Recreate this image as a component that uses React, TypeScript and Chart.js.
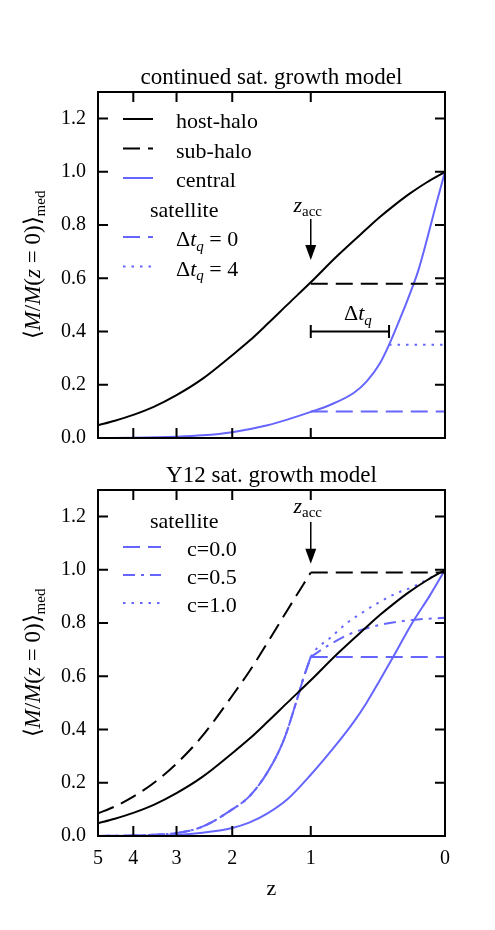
import React, { useEffect, useRef } from 'react';
import { Chart, registerables } from 'chart.js';

Chart.register(...registerables);

// ---------------- data ----------------
const zTicks = [5, 4, 3, 2, 1, 0];
const yTicks = [0, 0.2, 0.4, 0.6, 0.8, 1.0, 1.2];
const yMax = 1.3;
const zMaxAxis = 5;

// host halo (same in both panels)
const hostZ = [5, 4.5, 4, 3.5, 3, 2.5, 2, 1.75, 1.5, 1.25, 1, 0.75, 0.5, 0.4, 0.3, 0.2, 0.1, 0];
const hostM = [0.048, 0.065, 0.087, 0.117, 0.161, 0.222, 0.311, 0.364, 0.429, 0.503, 0.585, 0.682, 0.785, 0.83, 0.874, 0.918, 0.96, 1.0];

// top panel: continued satellite growth model
const subTopZ = [1, 0];
const subTopM = [0.58, 0.58];
const centralTopZ = [5, 4, 3, 2.5, 2, 1.5, 1.25, 1, 0.8, 0.6, 0.5, 0.4, 0.335, 0.26, 0.2, 0.15, 0.1, 0.05, 0];
const centralTopM = [0.0, 0.001, 0.005, 0.01, 0.022, 0.048, 0.07, 0.098, 0.126, 0.17, 0.212, 0.28, 0.35, 0.45, 0.54, 0.625, 0.74, 0.87, 1.0];
const dq0Z = [1, 0];
const dq0M = [0.1, 0.1];
const dq4Z = [0.335, 0];
const dq4M = [0.35, 0.35];

// bottom panel: Y12 satellite growth model
const subBotPreZ = [5, 4.5, 4, 3.5, 3, 2.5, 2, 1.75, 1.5, 1.25, 1];
const subBotPreM = [0.085, 0.111, 0.148, 0.199, 0.272, 0.376, 0.527, 0.617, 0.727, 0.852, 0.99];
const subBotPostZ = [1, 0];
const subBotPostM = [0.99, 0.99];
const centralBotZ = [5, 4, 3, 2.5, 2, 1.75, 1.5, 1.25, 1, 0.78, 0.6, 0.5, 0.4, 0.31, 0.18, 0.08, 0];
const centralBotM = [0.0, 0.001, 0.004, 0.012, 0.03, 0.05, 0.085, 0.14, 0.23, 0.33, 0.43, 0.5, 0.585, 0.67, 0.805, 0.905, 1.0];
const satPreZ = [5, 4, 3.5, 3, 2.5, 2, 1.75, 1.5, 1.3, 1.15, 1.08, 1];
const satPreM = [0.0, 0.002, 0.005, 0.011, 0.035, 0.1, 0.148, 0.24, 0.36, 0.51, 0.59, 0.673];
const c00Z = [1, 0];
const c00M = [0.673, 0.673];
const c05Z = [1, 0.81, 0.63, 0.4, 0.18, 0];
const c05M = [0.673, 0.72, 0.76, 0.793, 0.812, 0.82];
const c10Z = [1, 0.95, 0.81, 0.66, 0.53, 0.4, 0.28, 0.18, 0.08, 0];
const c10M = [0.673, 0.7, 0.744, 0.8, 0.84, 0.88, 0.913, 0.936, 0.97, 1.0];

// annotations
const zAcc = 1;
const zQuench = 0.335;

// ---------------- styles ----------------
const FONT = '"Liberation Serif", "Times New Roman", serif';
const BLACK = '#000000';
const BLUE = '#6666ff';
const DASH = [17, 8];
const DOT = [2.5, 6];
const DASHDOT = [12, 6, 3, 6];
const NUM = 20;
const TXT = 22;
const TITLE = 23;
const SUB = 15;
const TL = 10;

type Seg = { t: string; it: boolean; sub: boolean };

function parseRich(s: string): Seg[] {
  const out: Seg[] = [];
  let it = false;
  let sub = false;
  let buf = '';
  const push = () => {
    if (buf) out.push({ t: buf, it, sub });
    buf = '';
  };
  for (let i = 0; i < s.length; i++) {
    const c = s[i];
    if (c === '*') {
      push();
      it = !it;
    } else if (c === '_' && s[i + 1] === '{') {
      push();
      sub = true;
      i++;
    } else if (c === '}' && sub) {
      push();
      sub = false;
    } else buf += c;
  }
  push();
  return out;
}

function segFont(seg: Seg, size: number) {
  return `${seg.it ? 'italic ' : ''}${seg.sub ? SUB : size}px ${FONT}`;
}

function drawRich(ctx: CanvasRenderingContext2D, s: string, x: number, y: number, align: 'left' | 'center', size = TXT) {
  const segs = parseRich(s);
  let w = 0;
  const widths = segs.map((seg) => {
    ctx.font = segFont(seg, size);
    const m = ctx.measureText(seg.t).width;
    w += m;
    return m;
  });
  let cx = align === 'center' ? x - w / 2 : x;
  ctx.textAlign = 'left';
  ctx.textBaseline = 'alphabetic';
  ctx.fillStyle = '#000';
  segs.forEach((seg, i) => {
    ctx.font = segFont(seg, size);
    ctx.fillText(seg.t, cx, seg.sub ? y + 4.5 : y);
    cx += widths[i];
  });
}

const toX = (z: number) => Math.log10(1 + z);

type SeriesSpec = { label: string; z: number[]; m: number[]; color: string; dash: number[]; smooth: boolean; width?: number };

type LegendRow = { header?: string; label?: string };

type PanelSpec = {
  title: string;
  padTop: number;
  xHeight: number;
  showX: boolean;
  series: SeriesSpec[];
  legend: { rows: LegendRow[]; y0: number; dy: number; x0: number; x1: number; textX: number; headerX: number };
  arrow: { z: number; tailY: number; tipY: number; labelY: number };
  bracket?: { z1: number; z2: number; y: number };
};

const topSpec: PanelSpec = {
  title: 'continued sat. growth model',
  padTop: 92,
  xHeight: 27,
  showX: false,
  series: [
    { label: 'host-halo', z: hostZ, m: hostM, color: BLACK, dash: [], smooth: true },
    { label: 'sub-halo', z: subTopZ, m: subTopM, color: BLACK, dash: DASH, smooth: false },
    { label: 'central', z: centralTopZ, m: centralTopM, color: BLUE, dash: [], smooth: true },
    { label: 'Δ*t*_{*q*} = 0', z: dq0Z, m: dq0M, color: BLUE, dash: DASH, smooth: false },
    { label: 'Δ*t*_{*q*} = 4', z: dq4Z, m: dq4M, color: BLUE, dash: DOT, smooth: false },
  ],
  legend: {
    rows: [
      { label: 'host-halo' },
      { label: 'sub-halo' },
      { label: 'central' },
      { header: 'satellite' },
      { label: 'Δ*t*_{*q*} = 0' },
      { label: 'Δ*t*_{*q*} = 4' },
    ],
    y0: 27,
    dy: 29.5,
    x0: 25,
    x1: 55,
    textX: 78,
    headerX: 52,
  },
  arrow: { z: zAcc, tailY: 0.823, tipY: 0.669, labelY: 0.85 },
  bracket: { z1: zAcc, z2: zQuench, y: 0.4 },
};

const botSpec: PanelSpec = {
  title: 'Y12 sat. growth model',
  padTop: 25,
  xHeight: 94,
  showX: true,
  series: [
    { label: 'host-halo', z: hostZ, m: hostM, color: BLACK, dash: [], smooth: true },
    { label: 'sub-halo (pre)', z: subBotPreZ, m: subBotPreM, color: BLACK, dash: DASH, smooth: true },
    { label: 'sub-halo', z: subBotPostZ, m: subBotPostM, color: BLACK, dash: DASH, smooth: false },
    { label: 'central', z: centralBotZ, m: centralBotM, color: BLUE, dash: [], smooth: true },
    { label: 'c=0.0 (pre)', z: satPreZ, m: satPreM, color: BLUE, dash: DASH, smooth: true },
    { label: 'c=0.0', z: c00Z, m: c00M, color: BLUE, dash: DASH, smooth: false },
    { label: 'c=0.5 (pre)', z: satPreZ, m: satPreM, color: BLUE, dash: DASHDOT, smooth: true },
    { label: 'c=0.5', z: c05Z, m: c05M, color: BLUE, dash: DASHDOT, smooth: true },
    { label: 'c=1.0 (pre)', z: satPreZ, m: satPreM, color: BLUE, dash: DOT, smooth: true },
    { label: 'c=1.0', z: c10Z, m: c10M, color: BLUE, dash: DOT, smooth: true },
  ],
  legend: {
    rows: [{ header: 'satellite' }, { label: 'c=0.0' }, { label: 'c=0.5' }, { label: 'c=1.0' }],
    y0: 29,
    dy: 28,
    x0: 25,
    x1: 63,
    textX: 89,
    headerX: 52,
  },
  arrow: { z: zAcc, tailY: 1.18, tipY: 1.023, labelY: 1.214 },
};

const decoPlugin = {
  id: 'deco',
  afterDraw(chart: any, _args: any, opts: any) {
    const spec: PanelSpec = opts.spec;
    const ctx: CanvasRenderingContext2D = chart.ctx;
    const ca = chart.chartArea;
    const xs = chart.scales.x;
    const ys = chart.scales.y;
    ctx.save();
    ctx.setLineDash([]);
    ctx.strokeStyle = '#000';
    // frame
    ctx.lineWidth = 2;
    ctx.strokeRect(ca.left, ca.top, ca.right - ca.left, ca.bottom - ca.top);
    // inward ticks
    ctx.beginPath();
    xs.ticks.forEach((t: any) => {
      const px = xs.getPixelForValue(t.value);
      ctx.moveTo(px, ca.bottom);
      ctx.lineTo(px, ca.bottom - TL);
      ctx.moveTo(px, ca.top);
      ctx.lineTo(px, ca.top + TL);
    });
    ys.ticks.forEach((t: any) => {
      const py = ys.getPixelForValue(t.value);
      ctx.moveTo(ca.left, py);
      ctx.lineTo(ca.left + TL, py);
      ctx.moveTo(ca.right, py);
      ctx.lineTo(ca.right - TL, py);
    });
    ctx.stroke();

    // title
    drawRich(ctx, spec.title, (ca.left + ca.right) / 2, ca.top - 8, 'center', TITLE);

    // y label (rotated)
    ctx.save();
    ctx.translate(40, (ca.top + ca.bottom) / 2);
    ctx.rotate(-Math.PI / 2);
    drawRich(ctx, '⟨*M*/*M*(*z* = 0)⟩_{med}', 0, 0, 'center', 23);
    ctx.restore();

    // legend
    const lg = spec.legend;
    lg.rows.forEach((row, i) => {
      const y = ca.top + lg.y0 + i * lg.dy;
      if (row.header) {
        drawRich(ctx, row.header, ca.left + lg.headerX, y + 9, 'left');
        return;
      }
      const ds = chart.data.datasets.find((d: any) => d.label === row.label);
      if (!ds) return;
      ctx.save();
      ctx.strokeStyle = ds.borderColor;
      ctx.lineWidth = ds.borderWidth;
      ctx.setLineDash(ds.borderDash || []);
      ctx.beginPath();
      ctx.moveTo(ca.left + lg.x0, y);
      ctx.lineTo(ca.left + lg.x1, y);
      ctx.stroke();
      ctx.restore();
      drawRich(ctx, ds.label, ca.left + lg.textX, y + 9, 'left');
    });

    // accretion arrow
    const a = spec.arrow;
    const ax = xs.getPixelForValue(toX(a.z));
    const yTail = ys.getPixelForValue(a.tailY);
    const yTip = ys.getPixelForValue(a.tipY);
    ctx.setLineDash([]);
    ctx.lineWidth = 1.5;
    ctx.beginPath();
    ctx.moveTo(ax, yTail);
    ctx.lineTo(ax, yTip - 14);
    ctx.stroke();
    ctx.fillStyle = '#000';
    ctx.beginPath();
    ctx.moveTo(ax - 5.5, yTip - 15);
    ctx.lineTo(ax + 5.5, yTip - 15);
    ctx.lineTo(ax, yTip);
    ctx.closePath();
    ctx.fill();
    drawRich(ctx, '*z*_{acc}', ax - 3, ys.getPixelForValue(a.labelY), 'center');

    // quenching bracket
    if (spec.bracket) {
      const b = spec.bracket;
      const x1 = xs.getPixelForValue(toX(b.z1));
      const x2 = xs.getPixelForValue(toX(b.z2));
      const by = ys.getPixelForValue(b.y);
      ctx.lineWidth = 2;
      ctx.beginPath();
      ctx.moveTo(x1, by);
      ctx.lineTo(x2, by);
      ctx.moveTo(x1, by - 6.5);
      ctx.lineTo(x1, by + 6.5);
      ctx.moveTo(x2, by - 6.5);
      ctx.lineTo(x2, by + 6.5);
      ctx.stroke();
      drawRich(ctx, 'Δ*t*_{*q*}', (x1 + x2) / 2 + 8, by - 11.5, 'center');
    }
    ctx.restore();
  },
};

function buildConfig(spec: PanelSpec): any {
  return {
    type: 'line',
    data: {
      datasets: spec.series.map((s) => ({
        label: s.label,
        data: s.z.map((z, i) => ({ x: toX(z), y: s.m[i] })),
        borderColor: s.color,
        borderWidth: s.width ?? 2,
        borderDash: s.dash,
        borderCapStyle: 'butt',
        pointRadius: 0,
        pointHoverRadius: 0,
        fill: false,
        tension: 0,
        cubicInterpolationMode: s.smooth ? 'monotone' : 'default',
      })),
    },
    options: {
      responsive: false,
      animation: false,
      devicePixelRatio: 1,
      events: [],
      layout: { padding: { top: spec.padTop, right: 50, left: 0, bottom: 0 } },
      plugins: {
        legend: { display: false },
        tooltip: { enabled: false },
        title: { display: false },
        deco: { spec },
      },
      scales: {
        x: {
          type: 'linear',
          reverse: true,
          min: 0,
          max: toX(zMaxAxis),
          afterBuildTicks: (s: any) => {
            s.ticks = zTicks.map((z) => ({ value: toX(z) }));
          },
          afterFit: (s: any) => {
            s.height = spec.xHeight;
          },
          grid: { display: false, drawTicks: false },
          border: { display: false },
          ticks: {
            display: spec.showX,
            autoSkip: false,
            maxRotation: 0,
            padding: 11,
            color: '#000',
            font: { family: FONT, size: NUM },
            callback: (v: number) => String(Math.round(Math.pow(10, v) - 1)),
          },
          title: {
            display: spec.showX,
            text: 'z',
            color: '#000',
            font: { family: FONT, size: TXT },
            padding: { top: 0, bottom: 28 },
          },
        },
        y: {
          type: 'linear',
          min: 0,
          max: yMax,
          afterBuildTicks: (s: any) => {
            s.ticks = yTicks.map((v) => ({ value: v }));
          },
          afterFit: (s: any) => {
            s.width = 98;
          },
          grid: { display: false, drawTicks: false },
          border: { display: false },
          ticks: {
            padding: 12,
            color: '#000',
            font: { family: FONT, size: NUM },
            callback: (v: number) => v.toFixed(1),
          },
        },
      },
    },
    plugins: [decoPlugin],
  };
}

function Panel({ spec, top }: { spec: PanelSpec; top: number }) {
  const ref = useRef<HTMLCanvasElement>(null);
  useEffect(() => {
    const chart = new Chart(ref.current as HTMLCanvasElement, buildConfig(spec));
    return () => chart.destroy();
  }, [spec]);
  return (
    <canvas
      ref={ref}
      width={495}
      height={465}
      style={{ position: 'absolute', left: 0, top, width: 495, height: 465 }}
    />
  );
}

export default function App() {
  return (
    <div style={{ position: 'absolute', left: 0, top: 0, width: 495, height: 930, background: '#fff' }}>
      <Panel spec={topSpec} top={0} />
      <Panel spec={botSpec} top={465} />
    </div>
  );
}
